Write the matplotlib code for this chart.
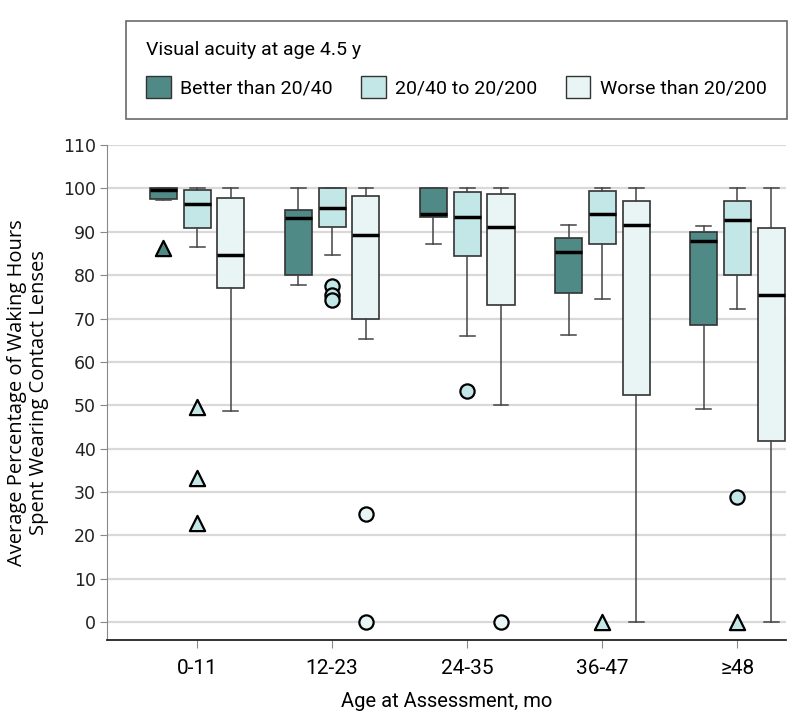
import matplotlib
matplotlib.use("Agg")
import matplotlib.pyplot as plt
from matplotlib.patches import Patch
import numpy as np

groups = ["0-11", "12-23", "24-35", "36-47", "\u226548"]
series = ["Better than 20/40", "20/40 to 20/200", "Worse than 20/200"]
legend_title = "Visual acuity at age 4.5 y"

better_whislo = [97.3, 77.8, 87.1, 66.1, 49.1]
better_q1 = [97.5, 80.0, 93.5, 75.8, 68.5]
better_med = [99.7, 93.2, 94.0, 85.4, 87.8]
better_q3 = [100.0, 95.0, 100.0, 88.6, 90.0]
better_whishi = [100.0, 100.0, 100.0, 91.6, 91.4]

mid_whislo = [86.5, 84.6, 65.9, 74.5, 72.3]
mid_q1 = [90.9, 91.1, 84.3, 87.1, 80.0]
mid_med = [96.3, 95.4, 93.5, 94.0, 92.8]
mid_q3 = [99.7, 100.0, 99.1, 99.5, 97.2]
mid_whishi = [100.0, 100.0, 100.0, 100.0, 100.0]

worse_whislo = [48.6, 65.3, 50.0, 0.0, 0.0]
worse_q1 = [77.1, 70.0, 73.1, 52.4, 41.8]
worse_med = [84.7, 89.2, 91.2, 91.5, 75.5]
worse_q3 = [97.8, 98.2, 98.8, 97.2, 90.8]
worse_whishi = [100.0, 100.0, 100.0, 100.0, 100.0]

# outliers: group index, series index, value, marker
outlier_group = [0, 0, 0, 0, 3, 4, 1, 1, 1, 1, 1, 2, 2, 4]
outlier_series = [0, 1, 1, 1, 1, 1, 1, 1, 1, 2, 2, 1, 2, 1]
outlier_value = [86.3, 49.6, 33.3, 22.8, 0.0, 0.0, 77.5, 75.5, 74.3, 25.0, 0.0, 53.4, 0.0, 28.9]
outlier_marker = ["^", "^", "^", "^", "^", "^", "o", "o", "o", "o", "o", "o", "o", "o"]

colors = ["#508a87", "#c3e6e6", "#e9f4f5"]
edge = "#333333"

cond = ["Roboto", "DejaVu Sans"]

fig = plt.figure(figsize=(7.98, 7.25), dpi=100)
ax = fig.add_axes([107 / 798, 1 - 640 / 725, (786 - 107) / 798, (640 - 145) / 725])

stats_all = [
    (better_whislo, better_q1, better_med, better_q3, better_whishi),
    (mid_whislo, mid_q1, mid_med, mid_q3, mid_whishi),
    (worse_whislo, worse_q1, worse_med, worse_q3, worse_whishi),
]
offsets = [-0.25, 0.0, 0.25]
width = 0.2
x = np.arange(len(groups))

for s, (wl, q1, md, q3, wh) in enumerate(stats_all):
    stats = []
    for g in range(len(groups)):
        stats.append(dict(whislo=wl[g], q1=q1[g], med=md[g], q3=q3[g], whishi=wh[g], fliers=[]))
    ax.bxp(stats, positions=x + offsets[s], widths=width, patch_artist=True,
           showfliers=False, capwidths=0.11,
           boxprops=dict(facecolor=colors[s], edgecolor=edge, linewidth=1.2),
           medianprops=dict(color="black", linewidth=2.5),
           whiskerprops=dict(color="#444444", linewidth=1.1),
           capprops=dict(color="#444444", linewidth=1.1),
           manage_ticks=False, zorder=3)

for g, s, v, m in zip(outlier_group, outlier_series, outlier_value, outlier_marker):
    ax.scatter(x[g] + offsets[s], v, marker=m, s=120 if m == "^" else 105,
               facecolor=colors[s], edgecolor="black", linewidth=1.6, zorder=4)

ax.set_xlim(-0.667, 4.36)
ax.set_ylim(-4.1, 110)
ax.set_yticks(np.arange(0, 111, 10))
ax.set_xticks(x)
ax.set_xticklabels(groups, fontfamily=cond, fontsize=15)
ax.tick_params(axis="y", labelsize=12.5, colors="#222222", length=5, color="#888888", pad=3)
ax.tick_params(axis="x", length=6, color="#888888", pad=8)
ax.yaxis.grid(True, color="#d9d9d9", linewidth=1.6, zorder=0)
ax.set_axisbelow(True)
for sp in ["top", "right"]:
    ax.spines[sp].set_visible(False)
ax.spines["left"].set_color("#888888")
ax.spines["bottom"].set_color("#222222")
ax.spines["bottom"].set_linewidth(1.3)

ax.set_xlabel("Age at Assessment, mo", fontfamily=cond, fontsize=14.5, labelpad=10)
ylab = ax.set_ylabel("Average Percentage of Waking Hours\nSpent Wearing Contact Lenses",
                     fontfamily=["Open Sans", "DejaVu Sans"], fontsize=14.5, labelpad=10,
                     linespacing=1.15)

handles = [Patch(facecolor=c, edgecolor=edge, linewidth=1.0) for c in colors]
leg = fig.legend(handles, series, ncol=3, title=legend_title, loc="upper left",
                 bbox_to_anchor=(126 / 798, 1 - 21 / 725, 661 / 798, 0), mode="expand",
                 frameon=True, fancybox=False, edgecolor="#444444",
                 prop=dict(family=cond, size=14), title_fontproperties=dict(family=cond, size=14),
                 handlelength=1.25, handleheight=1.4, handletextpad=0.5, borderpad=1.05,
                 labelspacing=0.85, alignment="left", borderaxespad=0)
leg.get_frame().set_linewidth(1.2)

# fit the y label length to the reference (about 347 px for the longer line)
fig.canvas.draw()
h = ylab.get_window_extent().height
if h > 0:
    ylab.set_fontsize(14.5 * 347.0 / h)

fig.savefig("out.png", dpi=100)
